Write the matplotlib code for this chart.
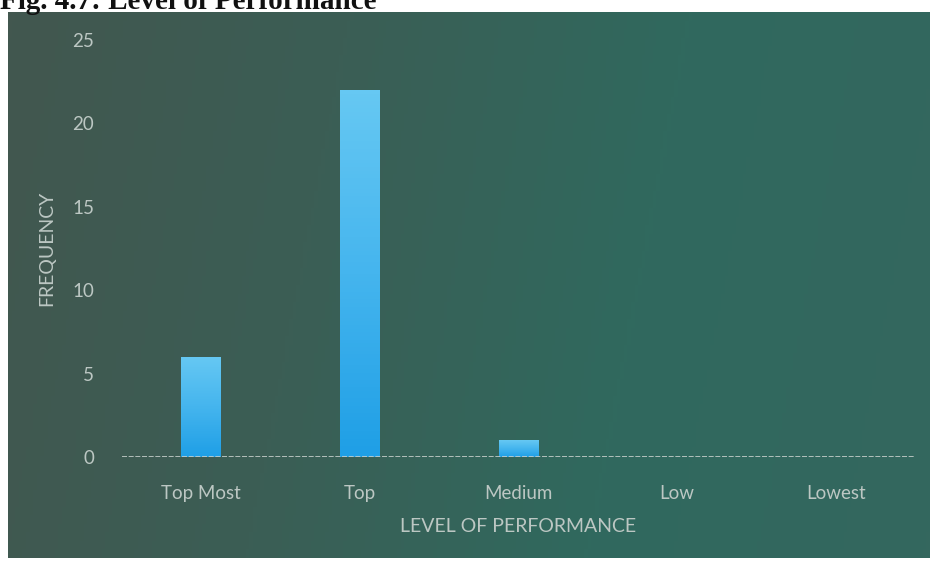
import matplotlib.pyplot as plt
import numpy as np
from matplotlib.colors import LinearSegmentedColormap

# Frequency by level of performance
categories = ['Top Most', 'Top', 'Medium', 'Low', 'Lowest']
frequency = [6, 22, 1, 0, 0]
y_ticks = [0, 5, 10, 15, 20, 25]

plt.rcParams['font.family'] = ['Lato', 'DejaVu Sans']
text_color = '#bcc7c3'

fig = plt.figure(figsize=(9.34, 5.62), dpi=100)
fig.patch.set_facecolor('white')

# Dark green panel behind the chart, lighter and more teal to the right
W, H = 934, 562
bg = fig.add_axes([8 / W, 4 / H, 922 / W, 546 / H])
bg_cmap = LinearSegmentedColormap.from_list('panel', ['#42574f', '#3b5e55', '#30695e', '#34675e'])
xs = np.linspace(0, 1, 256)
ys = np.linspace(0, 1, 64)
grad = xs[None, :] * 0.9 + (1 - ys[:, None]) * 0.1
bg.imshow(grad, aspect='auto', cmap=bg_cmap, extent=[0, 1, 0, 1], origin='lower')
bg.set_axis_off()

# Chart axes
ax = fig.add_axes([122 / W, (H - 457) / H, 793 / W, 417 / H])
ax.set_facecolor('none')
x = np.arange(len(categories))
bars = ax.bar(x, frequency, width=0.25, color='#2aa6e8', zorder=2)

# Vertical light-blue gradient inside each bar
bar_cmap = LinearSegmentedColormap.from_list('bar', ['#1f9fe6', '#45b5ee', '#66c8f3'])
for b in bars:
    if b.get_height() <= 0:
        continue
    x0, w, h = b.get_x(), b.get_width(), b.get_height()
    img = ax.imshow(np.linspace(0, 1, 100)[:, None], cmap=bar_cmap, aspect='auto',
                    extent=[x0, x0 + w, 0, h], origin='lower', zorder=3)
    img.set_clip_path(b)

ax.set_xlim(-0.5, len(categories) - 0.5)
ax.set_ylim(0, 25)
ax.set_yticks(y_ticks)
ax.set_xticks(x)
ax.set_xticklabels(categories)

ax.axhline(0, color='#c8d0cc', linewidth=1.2, linestyle=(0, (3, 1)), zorder=4)

for s in ax.spines.values():
    s.set_visible(False)
ax.tick_params(axis='both', length=0, colors=text_color, labelsize=13.5)
ax.tick_params(axis='y', pad=20)
ax.tick_params(axis='x', pad=20)

ax.set_xlabel('LEVEL OF PERFORMANCE', color=text_color, fontsize=14, labelpad=12)
ax.set_ylabel('FREQUENCY', color=text_color, fontsize=14, labelpad=12)

# Figure caption, partly cut off by the top edge
fig.text(0.0, 1 - 9 / H, 'Fig. 4.7: Level of Performance', family='Liberation Serif',
         weight='bold', fontsize=21, color='#111111', ha='left', va='baseline')

fig.savefig('out.png', dpi=100)
